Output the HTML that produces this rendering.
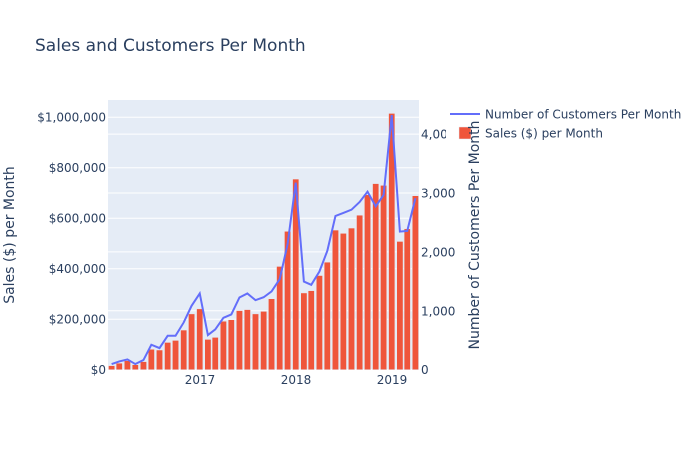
<!DOCTYPE html>
<html><head><meta charset="utf-8"><style>
html,body{margin:0;padding:0;background:#fff;}
svg text{font-family:"DejaVu Sans","Liberation Sans",sans-serif;fill:#2a3f5f;}
</style></head><body>
<svg id="chart" width="700" height="450" xmlns="http://www.w3.org/2000/svg">
<rect x="0" y="0" width="700" height="450" fill="#fff"/>
<text x="35" y="51" font-size="17">Sales and Customers Per Month</text>
<rect x="108" y="100" width="311" height="270" fill="#e5ecf6"/>
<g id="grid"></g>
<g id="bars"></g>
<path id="line" fill="none" stroke="#636efa" stroke-width="2"/>
<g id="ylabels"></g>
<g id="y2labels"></g>
<g id="xlabels"></g>
<text transform="translate(14,235) rotate(-90)" text-anchor="middle" font-size="14">Sales ($) per Month</text>
<g>
<rect x="446" y="102" width="254" height="42" fill="#fff"/>
<line x1="450" y1="114" x2="480" y2="114" stroke="#636efa" stroke-width="2"/>
<text x="485" y="118.5" font-size="12">Number of Customers Per Month</text>
<rect x="459" y="127" width="12" height="12" fill="#ef553b" stroke="#e5ecf6" stroke-width="0.5"/>
<text x="485" y="137.5" font-size="12">Sales ($) per Month</text>
</g>
<text transform="translate(479,235) rotate(-90)" text-anchor="middle" font-size="14">Number of Customers Per Month</text>
</svg>
<script>
const months = [];
for (let y = 2016; y <= 2019; y++) for (let m = 1; m <= 12; m++) { if (y === 2019 && m > 3) break; months.push([y, m]); }
const sales = [16000,26000,36000,20000,32000,81000,78000,108000,116000,157000,221000,241000,120000,128000,192000,198000,234000,238000,221000,231000,281000,409000,548000,755000,304000,313000,373000,426000,553000,540000,561000,612000,693000,737000,730000,1015000,508000,558000,689000];
const customers = [96,141,175,96,164,424,367,576,576,802,1085,1294,588,684,881,938,1226,1294,1181,1230,1328,1537,2130,3175,1497,1441,1667,2017,2610,2661,2717,2847,3023,2774,2966,4322,2345,2356,2910];
const salesTicks = [0,200000,400000,600000,800000,1000000];
const salesTickLabels = ["$0","$200,000","$400,000","$600,000","$800,000","$1,000,000"];
const custTicks = [0,1000,2000,3000,4000];
const custTickLabels = ["0","1,000","2,000","3,000","4,00"];
const xTickYears = [2017,2018,2019];

const NS = "http://www.w3.org/2000/svg";
const t0 = Date.UTC(2017,0,1), t1 = Date.UTC(2019,0,1);
function xScale(ms){ return 200 + (ms - t0) * (192 / (t1 - t0)); }
function monthEnd(y,m){ return Date.UTC(y, m, 0); }
function ySales(v){ return 369.7 - v * 252.5e-6; }
function yCust(v){ return 369.7 - v * 0.0589; }
function mk(tag, attrs, parent){ const e=document.createElementNS(NS,tag); for(const k in attrs) e.setAttribute(k,attrs[k]); parent.appendChild(e); return e; }

const grid = document.getElementById('grid');
salesTicks.forEach((t,i)=>{
  const y = ySales(t);
  const g = mk('line',{x1:108,x2:419,y1:y,y2:y,stroke:'#fff','stroke-width':1},grid);
  
  
  const tx = mk('text',{x:106,y:y+4.5,'text-anchor':'end','font-size':12},document.getElementById('ylabels'));
  tx.textContent = salesTickLabels[i];
  
  
});
custTicks.forEach((t,i)=>{
  const y = yCust(t);
  const g = mk('line',{x1:108,x2:419,y1:y,y2:y,stroke:'#fff','stroke-width':1},grid);
  
  
  const tx = mk('text',{x:421,y:y+4.5,'font-size':12},document.getElementById('y2labels'));
  tx.textContent = custTickLabels[i];
  
  
});
xTickYears.forEach(yr=>{
  const tx = mk('text',{x:xScale(Date.UTC(yr,0,1)),y:384,'text-anchor':'middle','font-size':12},document.getElementById('xlabels'));
  tx.textContent = String(yr);
  
  
});
const bars = document.getElementById('bars');
const bw = 6.3;
let d = '';
months.forEach(([y,m],i)=>{
  const cx = xScale(monthEnd(y,m));
  const top = ySales(sales[i]);
  const r = mk('rect',{x:cx-bw/2,y:top,width:bw,height:ySales(0)-top,fill:'#ef553b',stroke:'#e5ecf6','stroke-width':0.5},bars);
  
  
  d += (i?'L':'M') + cx.toFixed(2) + ',' + yCust(customers[i]).toFixed(2);
});
document.getElementById('line').setAttribute('d', d);
</script>
</body></html>
